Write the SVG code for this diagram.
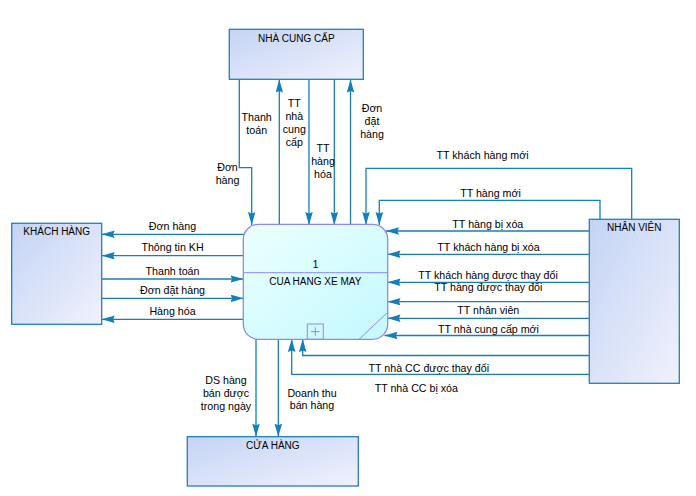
<svg xmlns="http://www.w3.org/2000/svg" width="696" height="496" viewBox="0 0 696 496">
<defs>
<linearGradient id="gEnt" x1="0" y1="0" x2="1" y2="1">
<stop offset="0" stop-color="#c4d4f4"/>
<stop offset="1" stop-color="#f0f1fd"/>
</linearGradient>
<linearGradient id="gProc" x1="0" y1="0" x2="1" y2="1">
<stop offset="0" stop-color="#ecffff"/>
<stop offset="1" stop-color="#c4f9fe"/>
</linearGradient>
<marker id="arr" markerUnits="userSpaceOnUse" markerWidth="14" markerHeight="8" refX="13" refY="3.75" orient="auto">
<path d="M0,0 L13,3.75 L0,7.5 L1.5,3.75 z" fill="#1080c0"/>
</marker>
<style>
.ent{fill:url(#gEnt);stroke:#1f80c0;stroke-width:1.3}
.proc{fill:url(#gProc);stroke:#8a8af2;stroke-width:1.3}
.pl{fill:none;stroke:#8a8af2;stroke-width:1}
.c{fill:none;stroke:#1080c0;stroke-width:1.3;marker-end:url(#arr)}
text{font-family:"Liberation Sans",Arial,sans-serif;fill:#000}
.nt{font-size:10px;text-anchor:middle}
.lt{font-size:10.67px;text-anchor:middle}
</style>
</defs>

<g id="connectors">
<path class="c" d="M239.3,79.3 V167.7 H251.7 V225"/>
<path class="c" d="M279.3,224.3 V79.5"/>
<path class="c" d="M309,79.3 V225"/>
<path class="c" d="M334.3,79.3 V225"/>
<path class="c" d="M350.5,224.3 V79.5"/>
<path class="c" d="M631.7,219.3 V168.3 H366 V225"/>
<path class="c" d="M600,219.3 V200.3 H379.3 V225"/>
<path class="c" d="M589.3,231 H386"/>
<path class="c" d="M589.3,254.3 H387.5"/>
<path class="c" d="M589.3,282.3 H387.5"/>
<path class="c" d="M589.3,301.7 H387.5"/>
<path class="c" d="M589.3,318.3 H387.5"/>
<path class="c" d="M589.3,335.5 H384.5"/>
<path class="c" d="M589.3,355.5 H302.7 V339"/>
<path class="c" d="M589.3,374.3 H291.7 V339"/>
<path class="c" d="M244,234.3 H101.7"/>
<path class="c" d="M243.3,255.7 H101.7"/>
<path class="c" d="M101.7,279 H243.5"/>
<path class="c" d="M101.7,298.3 H243.5"/>
<path class="c" d="M243.3,319.3 H101.7"/>
<path class="c" d="M256,339.3 V436.7"/>
<path class="c" d="M278.3,339.3 V436.7"/>
</g>

<g id="labels">
<text class="lt" x="172.5" y="230">Đơn hàng</text>
<text class="lt" x="172.5" y="250.7">Thông tin KH</text>
<text class="lt" x="172.5" y="275">Thanh toán</text>
<text class="lt" x="172.5" y="294.3">Đơn đặt hàng</text>
<text class="lt" x="172.5" y="315">Hàng hóa</text>

<text class="lt" x="256.7" y="121">Thanh</text>
<text class="lt" x="256.7" y="134">toán</text>
<text class="lt" x="294.3" y="107">TT</text>
<text class="lt" x="294.3" y="120">nhà</text>
<text class="lt" x="294.3" y="133">cung</text>
<text class="lt" x="294.3" y="146">cấp</text>
<text class="lt" x="323" y="152.3">TT</text>
<text class="lt" x="323" y="165.3">hàng</text>
<text class="lt" x="323" y="178.3">hóa</text>
<text class="lt" x="372" y="112.3">Đơn</text>
<text class="lt" x="372" y="125.3">đặt</text>
<text class="lt" x="372" y="138.3">hàng</text>
<text class="lt" x="227.5" y="170.7">Đơn</text>
<text class="lt" x="227.5" y="183.7">hàng</text>

<text class="lt" x="482.5" y="159.3">TT khách hàng mới</text>
<text class="lt" x="490.5" y="196.7">TT hàng mới</text>
<text class="lt" x="487.8" y="227.7">TT hàng bị xóa</text>
<text class="lt" x="488.5" y="251">TT khách hàng bị xóa</text>
<text class="lt" x="488" y="279">TT khách hàng được thay đổi</text>
<text class="lt" x="488.3" y="290.7">TT hàng được thay đổi</text>
<text class="lt" x="488.3" y="314">TT nhân viên</text>
<text class="lt" x="488.5" y="333.3">TT nhà cung cấp mới</text>
<text class="lt" x="428.8" y="371.7">TT nhà CC được thay đổi</text>
<text class="lt" x="416.3" y="392">TT nhà CC bị xóa</text>

<text class="lt" x="226" y="384.3">DS hàng</text>
<text class="lt" x="226" y="397">bán được</text>
<text class="lt" x="226" y="409.7">trong ngày</text>
<text class="lt" x="312" y="396.7">Doanh thu</text>
<text class="lt" x="312" y="409.4">bán hàng</text>
</g>

<g id="nha-cung-cap">
<rect class="ent" x="229.3" y="29.3" width="134" height="50"/>
<text class="nt" x="296.3" y="42">NHÀ CUNG CẤP</text>
</g>

<g id="khach-hang">
<rect class="ent" x="11.7" y="223.3" width="90" height="101"/>
<text class="nt" x="56.7" y="235">KHÁCH HÀNG</text>
</g>

<g id="nhan-vien">
<rect class="ent" x="589.3" y="219.3" width="90" height="164"/>
<text class="nt" x="634.3" y="231">NHÂN VIÊN</text>
</g>

<g id="cua-hang">
<rect class="ent" x="187.3" y="436.7" width="171" height="49.3"/>
<text class="nt" x="272.8" y="449">CỬA HÀNG</text>
</g>

<g id="process-1">
<rect class="proc" x="243.3" y="224.3" width="144.4" height="115" rx="15" ry="15"/>
<line class="pl" x1="243.3" y1="272.7" x2="387.7" y2="272.7"/>
<line class="pl" x1="359" y1="339.3" x2="387.7" y2="312.3"/>
<rect class="pl" x="307.3" y="324" width="16" height="15.3"/>
<line class="pl" x1="311" y1="331.6" x2="319.6" y2="331.6"/>
<line class="pl" x1="315.3" y1="327.3" x2="315.3" y2="335.9"/>
<text class="nt" x="315.5" y="267.7">1</text>
<text class="nt" x="315.3" y="285">CUA HANG XE MAY</text>
</g>
</svg>
